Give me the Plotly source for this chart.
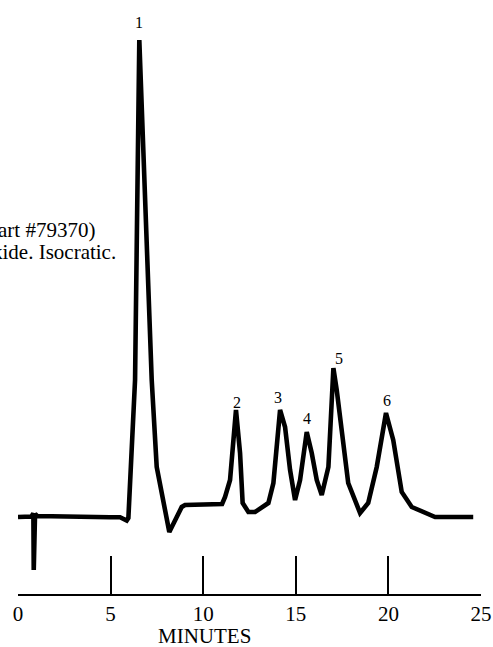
import plotly.graph_objects as go

# Chromatogram trace: retention time (minutes) and detector response (arbitrary units)
time_min = [0.0, 0.73, 0.83, 0.85, 0.92, 1.03, 4.97, 5.51, 5.87, 5.96, 6.32, 6.55,
            7.22, 7.49, 8.17, 8.84, 9.02, 10.73, 11.02, 11.18, 11.45, 11.77, 11.99,
            12.13, 12.44, 12.80, 13.52, 13.79, 14.15, 14.42, 14.69, 14.96, 15.23,
            15.59, 15.86, 16.13, 16.40, 16.76, 17.03, 17.21, 17.83, 18.47, 18.91,
            19.37, 19.87, 20.26, 20.72, 21.26, 22.52, 24.58]
response = [0, 0.5, 3.7, -53, 3, 1, -0.3, -0.3, -3.5, -1, 137, 477,
            137, 50, -15, 10, 12, 12, 13, 20, 37, 107, 64,
            14, 5, 5, 14, 34, 107, 90, 47, 17, 37,
            85, 64, 37, 22, 50, 149, 127, 34, 4, 14,
            50, 104, 77, 25, 10, 0, 0]

# Peak labels
peak_names = ["1", "2", "3", "4", "5", "6"]
peak_time = [6.55, 11.80, 14.06, 15.59, 17.35, 19.91]
peak_label_y = [495, 115, 120, 99, 159, 117]

tick_vals = [0, 5, 10, 15, 20, 25]
tick_text = ["0", "5", "10", "15", "20", "25"]

notes = ["art #79370)", "kide. Isocratic."]

SERIF = "Liberation Serif, Times New Roman, serif"

fig = go.Figure()
fig.add_trace(go.Scatter(
    x=time_min, y=response, mode="lines",
    line=dict(color="black", width=4.6),
    hoverinfo="skip", showlegend=False,
))

annotations = []
for name, t, ly in zip(peak_names, peak_time, peak_label_y):
    annotations.append(dict(x=t, y=ly, xref="x", yref="y", text=name,
                            showarrow=False, font=dict(family=SERIF, size=16, color="black"),
                            xanchor="center", yanchor="middle"))

annotations.append(dict(x=0.1706, y=0.612, xref="paper", yref="paper", text=notes[0],
                        showarrow=False, font=dict(family=SERIF, size=21, color="black"),
                        xanchor="right", yanchor="middle"))
annotations.append(dict(x=0.216, y=0.5755, xref="paper", yref="paper", text=notes[1],
                        showarrow=False, font=dict(family=SERIF, size=21, color="black"),
                        xanchor="right", yanchor="middle"))
annotations.append(dict(x=0.402, y=-0.0707, xref="paper", yref="paper", text="MINUTES",
                        showarrow=False, font=dict(family=SERIF, size=21, color="black"),
                        xanchor="center", yanchor="middle"))

fig.update_layout(
    width=493, height=647,
    margin=dict(l=18, r=12, t=0, b=53),
    paper_bgcolor="white", plot_bgcolor="white",
    annotations=annotations,
    xaxis=dict(range=[0, 25], tickvals=tick_vals, ticktext=tick_text,
               ticks="inside", ticklen=38, tickwidth=2, tickcolor="black",
               showline=True, linewidth=2, linecolor="black",
               showgrid=False, zeroline=False,
               tickfont=dict(family=SERIF, size=21, color="black")),
    yaxis=dict(range=[-77, 517], visible=False, showgrid=False, zeroline=False),
)

fig.write_html("out.html")
